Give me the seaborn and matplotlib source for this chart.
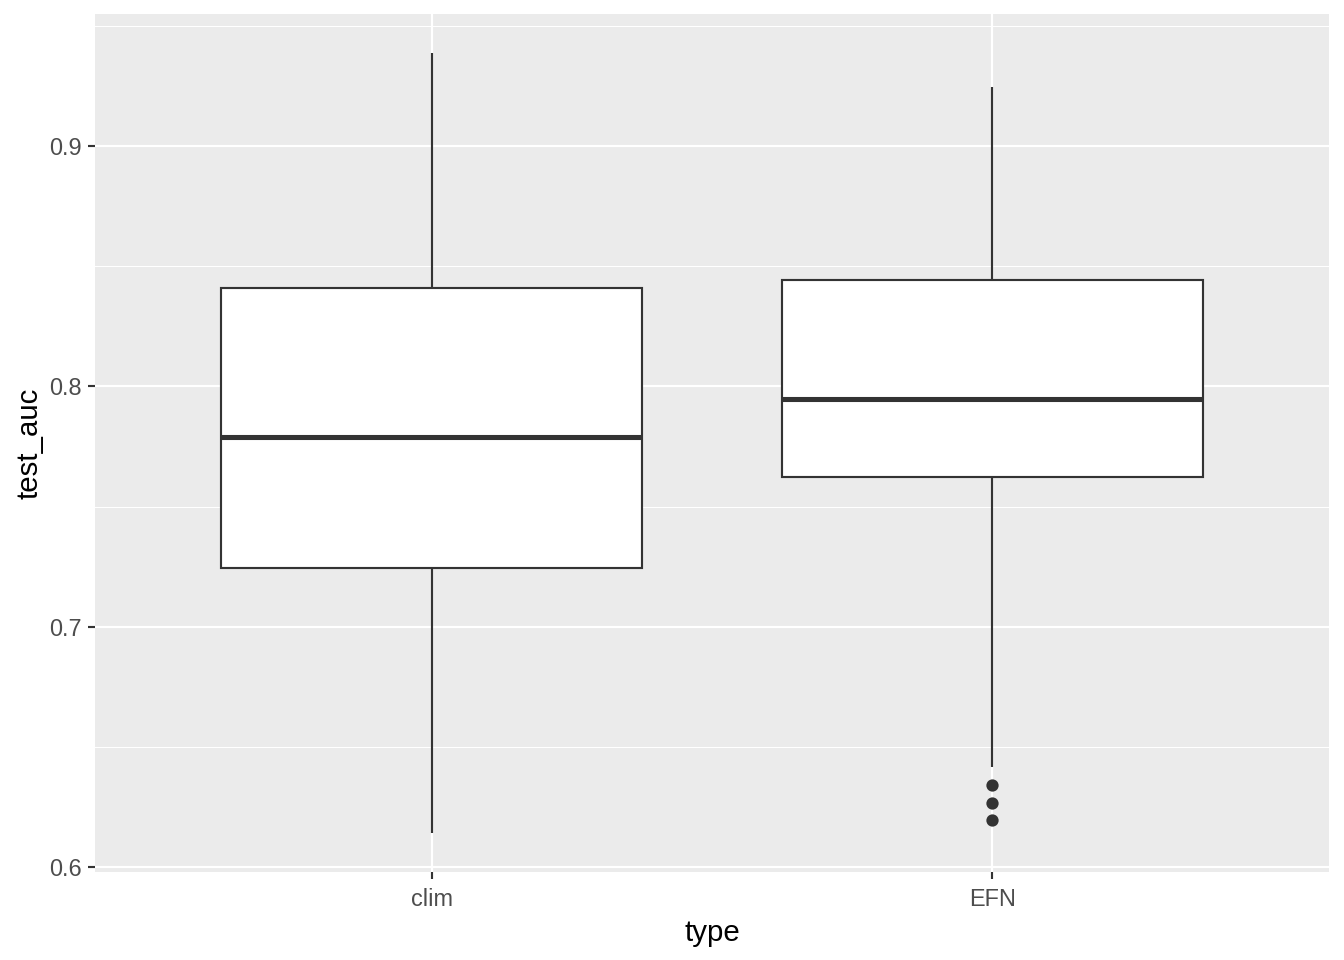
import pandas as pd
import numpy as np
import seaborn as sns
import matplotlib.pyplot as plt


# values (whisker ends, quartiles, median, outliers)
types = ["clim", "EFN"]
clim_auc = [0.6143, 0.7247, 0.7788, 0.8408, 0.9387]
efn_auc = [0.6195, 0.6266, 0.6341, 0.6417,
           0.7625, 0.7625, 0.7625, 0.7625,
           0.7950, 0.7950, 0.7950, 0.7950,
           0.8441, 0.8441, 0.8441, 0.8441,
           0.9246]

df = pd.DataFrame({
    "type": [types[0]] * len(clim_auc) + [types[1]] * len(efn_auc),
    "test_auc": clim_auc + efn_auc,
})

plt.rcParams["font.family"] = ["Liberation Sans", "DejaVu Sans"]

fig, ax = plt.subplots(figsize=(7, 5), dpi=192)
fig.subplots_adjust(left=95 / 1344, right=1329 / 1344,
                    bottom=1 - 872 / 960, top=1 - 14 / 960)

ax.set_facecolor("#EBEBEB")
for s in ax.spines.values():
    s.set_visible(False)

sns.boxplot(
    data=df, x="type", y="test_auc", order=types, ax=ax,
    color="white", saturation=1, linecolor="#333333", linewidth=0.8,
    width=0.75, showcaps=False,
    medianprops={"linewidth": 1.9, "color": "#333333"},
    flierprops={"marker": "o", "markersize": 3.6,
                "markerfacecolor": "#333333", "markeredgecolor": "#333333"},
)

# ggplot-like expansion
lo, hi = min(df["test_auc"]), max(df["test_auc"])
pad = (hi - lo) * 0.05
ax.set_ylim(lo - pad, hi + pad)
ax.set_xlim(-0.6, 1.6)

ax.set_yticks([0.6, 0.7, 0.8, 0.9])
ax.set_yticks([0.65, 0.75, 0.85, 0.95], minor=True)
ax.set_yticklabels(["0.6", "0.7", "0.8", "0.9"])

ax.set_axisbelow(True)
ax.grid(which="major", color="white", linewidth=0.8)
ax.grid(which="minor", axis="y", color="white", linewidth=0.4)

ax.tick_params(which="major", length=2.75, width=0.8, color="#333333",
               labelcolor="#4D4D4D", labelsize=8.8, pad=2.2)
ax.tick_params(axis="x", which="major", pad=3.3)
ax.tick_params(which="minor", length=0)

ax.set_xlabel("type", fontsize=11, color="black", labelpad=2.9)
ax.set_ylabel("test_auc", fontsize=11, color="black", labelpad=2)

plt.savefig("out.png", dpi=192)
